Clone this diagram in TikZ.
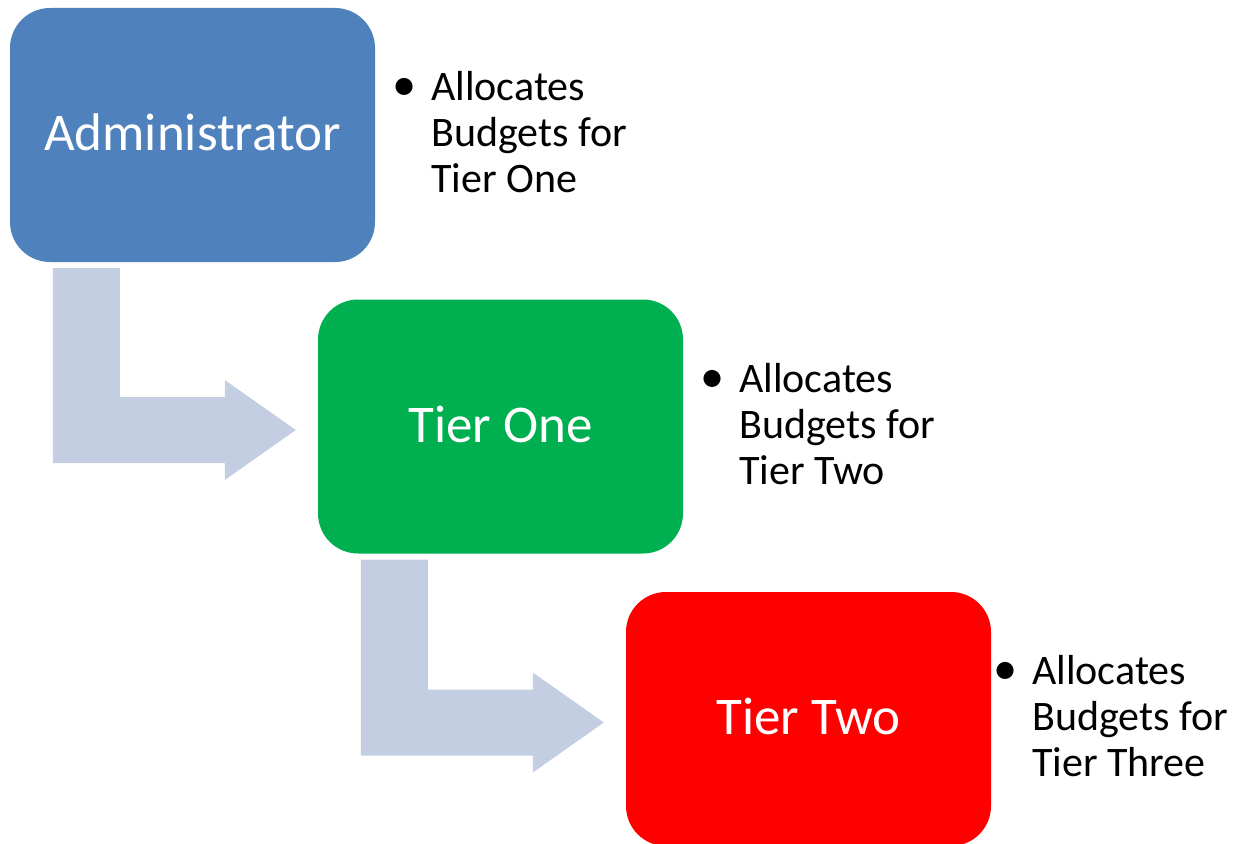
\documentclass[tikz,border=0pt]{standalone}
\usepackage{fontspec}
\setmainfont{Carlito}
\usetikzlibrary{calc}
\definecolor{adminblue}{HTML}{4F81BD}
\definecolor{tiergreen}{HTML}{00B050}
\definecolor{tierred}{HTML}{FF0000}
\definecolor{flowgrey}{HTML}{C3CEE2}
\tikzset{
  tierbox/.style={rounded corners=40pt, minimum width=365pt, minimum height=254pt,
    inner sep=0pt, text=white, font=\fontsize{53}{60}\selectfont},
  boxlabel/.style={inner sep=0pt, text=white, font=\fontsize{53}{60}\selectfont},
  notes/.style={anchor=west, align=left, inner sep=0pt, text=black,
    font=\fontsize{42}{46}\selectfont},
  flow/.style={fill=flowgrey, draw=none}
}
% elbow arrow from the bottom of box #1 to the left side of box #2
\newcommand{\elbowarrow}[2]{%
  \fill[flow] let \p1=(#1.south west), \p2=(#2.west) in
    (\x1+43pt,\y1-6pt) -- (\x1+110pt,\y1-6pt) -- (\x1+110pt,\y2+29.5pt)
    -- (\x2-93pt,\y2+29.5pt) -- (\x2-93pt,\y2+46.5pt) -- (\x2-22pt,\y2-3.5pt)
    -- (\x2-93pt,\y2-53.5pt) -- (\x2-93pt,\y2-36.5pt) -- (\x1+43pt,\y2-36.5pt) -- cycle;}
\newcommand{\bulletmark}{\llap{\scalebox{1.15}{\textbullet}\hspace{15pt}}}
\begin{document}
\begin{tikzpicture}[x=1pt,y=-1pt]
\useasboundingbox (0,0) rectangle (1233,843);
\node[tierbox, fill=adminblue] (admin) at (192.5,135) {};
\node[tierbox, fill=tiergreen] (tone) at (500.5,426.5) {};
\node[tierbox, fill=tierred] (ttwo) at (808.5,719) {};
\node[boxlabel] (adminlabel) at ($(admin)+(0,-2.5)$) {Administrator};
\node[boxlabel] (tonelabel) at ($(tone)+(0,-2.5)$) {Tier One};
\node[boxlabel] (ttwolabel) at ($(ttwo)+(0,-2.5)$) {Tier Two};
\elbowarrow{admin}{tone}
\elbowarrow{tone}{ttwo}
\node[notes] (n1) at (431,132) {\bulletmark Allocates\\Budgets for\\Tier One};
\node[notes] (n2) at (739,424) {\bulletmark Allocates\\Budgets for\\Tier Two};
\node[notes] (n3) at (1032,716) {\bulletmark Allocates\\Budgets for\\Tier Three};
\end{tikzpicture}
\end{document}
